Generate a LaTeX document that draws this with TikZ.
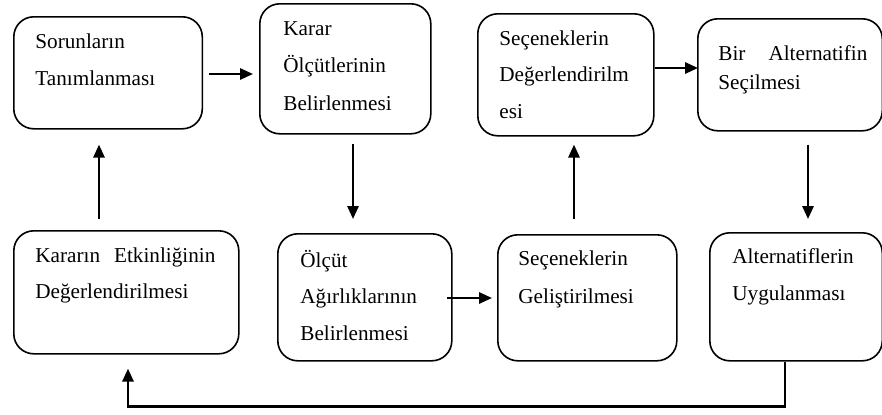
\documentclass[tikz,border=0pt]{standalone}
\usepackage{fontspec}
\setmainfont{Liberation Serif}
\usetikzlibrary{arrows.meta,calc}
\begin{document}
\begin{tikzpicture}[x=0.5pt,y=-0.5pt,
  box/.style={draw, rounded corners=10pt, line width=0.8pt, inner sep=0pt, anchor=north west},
  txt/.style={anchor=base west, inner sep=0pt, text width=110pt, align=left},
  arr/.style={line width=1.2pt, -{Triangle[length=6.5pt,width=5.6pt]}}]
\useasboundingbox (0,0) rectangle (882,414);
% boxes
\node[box, minimum width=94.25pt, minimum height=56pt] (b1) at (13,16) {};
\node[box, minimum width=85.5pt, minimum height=65pt] (b2) at (259,3) {};
\node[box, minimum width=88pt, minimum height=61pt] (b3) at (477,13) {};
\node[box, minimum width=92.25pt, minimum height=56pt] (b4) at (697,18) {};
\node[box, minimum width=112.5pt, minimum height=61.5pt] (b5) at (13,230) {};
\node[box, minimum width=87pt, minimum height=63.5pt] (b6) at (277,233) {};
\node[box, minimum width=89.5pt, minimum height=63pt] (b7) at (497,234) {};
\node[box, minimum width=86.25pt, minimum height=64pt] (b8) at (709,232) {};
% texts
\node[txt, font=\fontsize{10.6}{18.5}\selectfont] (t1) at ($(b1.north west)+(22,32)$) {Sorunların\\Tanımlanması};
\node[txt, font=\fontsize{10.6}{18.75}\selectfont] (t2) at ($(b2.north west)+(24,32)$) {Karar\\Ölçütlerinin\\Belirlenmesi};
\node[txt, font=\fontsize{10.6}{18.25}\selectfont] (t3) at ($(b3.north west)+(22,32)$) {Seçeneklerin\\Değerlendirilm\\esi};
\node[txt, font=\fontsize{10.6}{14.5}\selectfont] (t4) at ($(b4.north west)+(21,42)$) {\makebox[74.5pt]{Bir\hfill Alternatifin}\\Seçilmesi};
\node[txt, font=\fontsize{10.6}{18}\selectfont] (t5) at ($(b5.north west)+(22,32)$) {\makebox[90pt]{Kararın\hfill Etkinliğinin}\\Değerlendirilmesi};
\node[txt, font=\fontsize{10.6}{18.25}\selectfont] (t6) at ($(b6.north west)+(23,34)$) {Ölçüt\\Ağırlıklarının\\Belirlenmesi};
\node[txt, font=\fontsize{10.6}{19}\selectfont] (t7) at ($(b7.north west)+(21,31)$) {Seçeneklerin\\Geliştirilmesi};
\node[txt, font=\fontsize{10.6}{18.5}\selectfont] (t8) at ($(b8.north west)+(23,31)$) {Alternatiflerin\\Uygulanması};
% connectors
\draw[arr] ($(b1.north east)+(6,58)$) -- ($(b2.north west)+(-6,71)$);
\draw[arr] ($(b2.south west)+(94,9)$) -- ($(b6.north west)+(76,-14)$);
\draw[arr] ($(b6.north east)+(-6,65)$) -- ($(b7.north west)+(-5,64)$);
\draw[arr] ($(b7.north west)+(77,-15)$) -- ($(b3.south west)+(97,8)$);
\draw[arr] ($(b3.north east)+(0,55)$) -- ($(b4.north west)+(1,50)$);
\draw[arr] ($(b4.south west)+(111,13)$) -- ($(b8.north west)+(99,-13)$);
\draw[arr] ($(b8.south west)+(76,0)$) -- ++(0,45) -| ($(b5.south west)+(115,14)$);
\draw[arr] ($(b5.north west)+(86,-11)$) -- ($(b1.south west)+(86,15)$);
\end{tikzpicture}
\end{document}
